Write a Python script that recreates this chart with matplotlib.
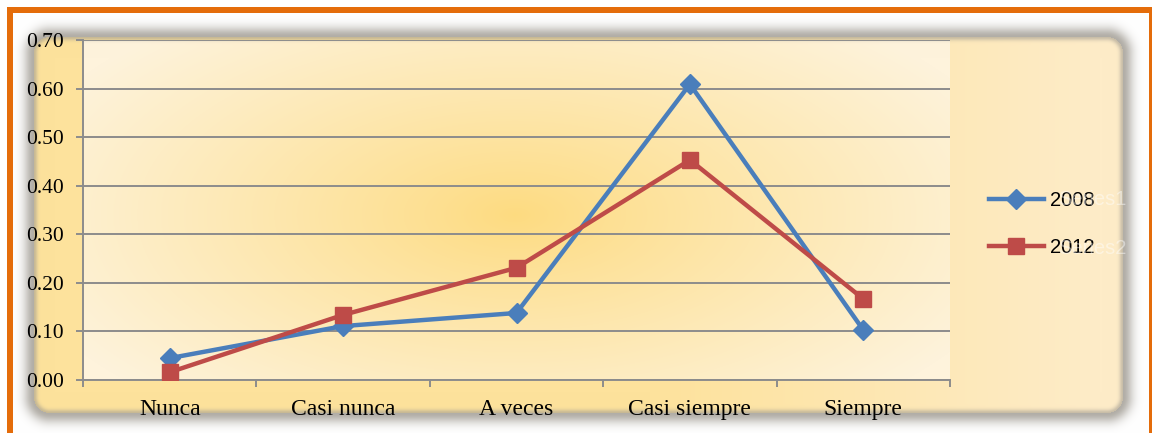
import numpy as np
import matplotlib
matplotlib.use("Agg")
import matplotlib.pyplot as plt
from matplotlib.colors import to_rgb

categories = ["Nunca", "Casi nunca", "A veces", "Casi siempre", "Siempre"]
values_2008 = [0.045, 0.111, 0.138, 0.609, 0.103]
values_2012 = [0.016, 0.134, 0.231, 0.453, 0.167]
series_labels = ["2008", "2012"]
ghost_labels = ["Series1", "Series2"]
y_ticks = [0.0, 0.1, 0.2, 0.3, 0.4, 0.5, 0.6, 0.7]

W, H = 1152, 433
fig = plt.figure(figsize=(W / 100, H / 100), dpi=100)

# background: orange frame, soft grey shadow, yellow gradients
yy, xx = np.mgrid[0:H, 0:W] + 0.5
c_yel = np.array(to_rgb("#FDE29C"))
c_cream = np.array(to_rgb("#FEECC8"))
t = np.clip((xx - 650) / 450, 0, 1)[..., None]
chart = c_yel * (1 - t) + c_cream * t

p_yel = np.array(to_rgb("#FDDB80"))
p_light = np.array(to_rgb("#FEF3DC"))
r2 = np.sqrt(((xx - 515) / 520) ** 2 + ((yy - 215) / 250) ** 2)
t2 = np.clip(r2, 0, 1)[..., None] ** 0.9
plot_bg = p_yel * (1 - t2) + p_light * t2
in_plot = (xx >= 83) & (xx <= 950) & (yy >= 40) & (yy <= 380)
chart[in_plot] = plot_bg[in_plot]

x0, x1, y0, y1, rad = 34, 1123, 37, 413, 16
cx, cy = (x0 + x1) / 2, (y0 + y1) / 2
qx = np.abs(xx - cx) - ((x1 - x0) / 2 - rad)
qy = np.abs(yy - cy) - ((y1 - y0) / 2 - rad)
d = np.hypot(np.maximum(qx, 0), np.maximum(qy, 0)) + np.minimum(np.maximum(qx, qy), 0) - rad

img = np.ones((H, W, 3))
img[d <= 0] = chart[d <= 0]
gray = np.array(to_rgb("#9C978E"))
a = np.where(d > 0, 0.78 * np.exp(-(d / 10.0) ** 2), 0.55 * np.exp(-(d / 3.5) ** 2))[..., None]
img = img * (1 - a) + gray * a

orange = np.array(to_rgb("#E46C0A"))
img[7:13, 7:] = orange
img[7:, 7:13] = orange
img[7:, 1149:] = orange

ax_bg = fig.add_axes([0, 0, 1, 1])
ax_bg.imshow(img, extent=[0, W, H, 0], aspect="auto", interpolation="bilinear")
ax_bg.axis("off")

# faint leftover series names behind the legend
for yp, txt in zip([200, 248], ghost_labels):
    fig.text(1127 / W, 1 - yp / H, txt, ha="right", va="center", color="white",
             alpha=0.45, fontsize=14.5, family="Liberation Sans")

ax = fig.add_axes([83 / W, 1 - 380 / H, (950 - 83) / W, 340 / H])
ax.set_facecolor("none")
x = np.arange(len(categories))
ax.plot(x, values_2008, color="#4A7EBB", lw=3.2, marker="D", ms=10,
        markeredgecolor="#4A7EBB", label=series_labels[0], zorder=3)
ax.plot(x, values_2012, color="#BE4B48", lw=3.2, marker="s", ms=12,
        markeredgecolor="#BE4B48", label=series_labels[1], zorder=3)

ax.set_xlim(-0.5, len(categories) - 0.5)
ax.set_ylim(0, 0.7)
ax.set_yticks(y_ticks)
ax.set_yticklabels([f"{v:.2f}" for v in y_ticks])
ax.set_xticks(np.arange(-0.5, len(categories)))
ax.set_xticklabels([])
ax.set_xticks(x, minor=True)
ax.set_xticklabels(categories, minor=True)
ax.grid(axis="y", color="#8C8C8C", lw=1.4)
ax.set_axisbelow(True)
for s in ["top", "right"]:
    ax.spines[s].set_visible(False)
for s in ["left", "bottom"]:
    ax.spines[s].set_color("#8C8C8C")
    ax.spines[s].set_linewidth(1.4)
ax.tick_params(axis="both", which="major", color="#8C8C8C", width=1.4, length=5)
ax.tick_params(axis="x", which="minor", length=0, pad=14,
               labelsize=17, labelfontfamily="Liberation Serif")
ax.tick_params(axis="y", pad=9, labelsize=15.5, labelfontfamily="Liberation Serif")

ax.legend(loc="center left", bbox_to_anchor=(971 / W, 1 - 224 / H),
          bbox_transform=fig.transFigure, frameon=False,
          prop={"family": "Liberation Sans", "size": 14.5},
          handlelength=2.7, handletextpad=0.3, labelspacing=1.43)

fig.savefig("out.png", dpi=100)
